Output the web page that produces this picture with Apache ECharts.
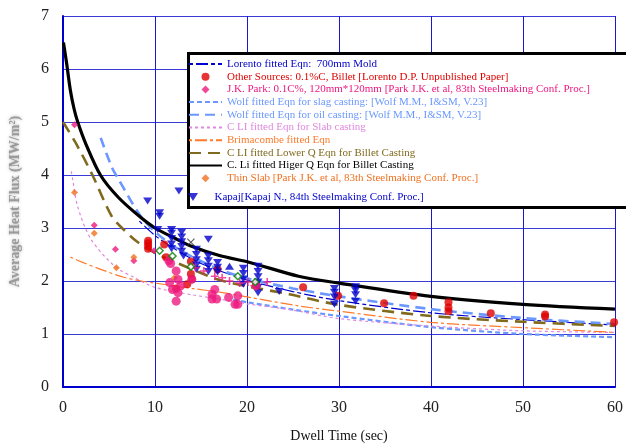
<!DOCTYPE html>
<html><head><meta charset="utf-8">
<script src="https://cdn.jsdelivr.net/npm/echarts@6/dist/echarts.min.js"></script>
<style>html,body{margin:0;padding:0;background:#fff}#c{width:626px;height:448px}</style>
</head><body><div id="c"></div>
<script>
// ---- axis ticks ----
const xTicks = [0, 10, 20, 30, 40, 50, 60];
const yTicks = [0, 1, 2, 3, 4, 5, 6, 7];

// ---- fitted curves [time, heat flux] ----
const lorentoCurve = [[8.3,3.13],[10,2.86],[12,2.62],[15,2.33],[20,2.02],[25,1.80],[30,1.63],[40,1.40],[50,1.27],[60,1.17]];
const wolfSlagCurve = [[18.5,1.65],[20,1.60],[25,1.46],[30,1.34],[40,1.13],[50,1.00],[60,0.94]];
const wolfOilCurve = [[4.1,4.70],[5.3,4.15],[6.1,3.90],[8.3,3.26],[10,2.93],[12,2.66],[14,2.46],[17,2.22],[20,2.05],[25,1.86],[30,1.71],[40,1.47],[50,1.30],[60,1.19]];
const cliSlabCurve = [[0.9,4.07],[1.07,3.90],[1.6,3.40],[3,2.80],[5.6,2.28],[7.7,2.07],[10,1.88],[14,1.74],[17,1.66],[20,1.57],[25,1.45],[30,1.29],[40,1.15],[50,1.06],[60,1.03]];
const brimacombeCurve = [[0.8,2.45],[2,2.36],[4.1,2.22],[6.6,2.07],[8.5,2.00],[10,1.96],[14,1.86],[17,1.79],[20,1.70],[25.6,1.53],[30,1.43],[40,1.22],[50,1.12],[60,1.03]];
const cliLowerCurve = [[0,5.00],[1.4,4.60],[3.2,4.00],[5.3,3.22],[6.6,2.97],[8,2.75],[10,2.53],[12,2.37],[15,2.15],[17,2.02],[20,1.90],[24.6,1.75],[30,1.55],[40,1.34],[50,1.23],[60,1.15]];
const cliHigherCurve = [[0.05,6.50],[0.4,6.10],[0.8,5.60],[1.2,5.25],[1.6,5.00],[2.5,4.58],[4.1,3.99],[6,3.58],[8.3,3.22],[10,3.00],[12,2.82],[13.9,2.66],[17,2.48],[20.3,2.35],[25.6,2.09],[30,1.96],[40,1.71],[50,1.56],[60,1.47]];

// ---- measured points ----
const otherSourcesPts = [[9.25,2.76],[9.25,2.71],[9.25,2.66],[9.25,2.61],[11.0,2.69],[11.2,2.45],[12.3,1.86],[13.5,1.94],[13.9,2.37],[13.9,2.13],[14.0,2.04],[16.8,2.22],[21.0,1.94],[26.1,1.88],[29.9,1.72],[34.9,1.58],[38.1,1.72],[41.9,1.60],[41.9,1.50],[41.9,1.43],[46.5,1.39],[52.4,1.37],[52.4,1.33],[59.9,1.22]];
const jkParkPts = [[1.25,4.95],[3.4,3.05],[5.7,2.60],[7.7,2.38],[9.9,2.57]];
const thinSlabPts = [[1.25,3.67],[3.4,2.90],[5.8,2.25],[7.7,2.45],[12.1,2.06]];
const kapajPts = [[9.2,3.51],[10.5,3.29],[10.5,3.22],[12.6,3.70],[10.3,2.97],
  [11.8,2.97],[11.8,2.90],[11.8,2.80],[11.8,2.70],[11.8,2.61],
  [12.9,2.92],[12.9,2.83],[12.9,2.74],[12.9,2.65],[12.9,2.56],[13.1,2.47],
  [14.5,2.60],[14.5,2.50],[14.5,2.40],[14.5,2.30],[14.5,2.22],
  [15.8,2.79],[15.8,2.47],[15.8,2.38],[15.8,2.28],[15.8,2.18],
  [16.8,2.35],[16.8,2.26],[16.8,2.17],
  [19.6,2.24],[19.6,2.14],[19.6,2.04],[19.6,1.94],
  [21.2,2.28],[21.2,2.18],[21.2,2.08],[21.2,1.98],[21.2,1.88],[21.2,1.78],
  [23.5,1.80],
  [29.5,1.86],[29.5,1.79],[29.5,1.70],[29.5,1.56],
  [31.8,1.89],[31.8,1.82],[31.8,1.74],[31.8,1.62]];
const kapajUpPts = [[18.1,2.28]];
const pinkCirclePts = [[11.5,2.38],[11.7,2.33],[12.3,2.19],[11.6,1.97],[12.5,2.03],[11.9,1.84],[12.5,1.78],[12.3,1.62],[12.8,1.91],[14.0,2.03],[16.2,1.75],[16.5,1.84],[16.2,1.66],[16.7,1.66],[18.0,1.69],[19.0,1.72],[18.7,1.56],[19.0,1.56],[21.0,1.91]];
const plusPts = [[14.4,2.25],[15.3,2.19],[16.5,2.09],[17.3,2.06],[18.1,2.00],[19.2,1.96],[20.1,1.98],[20.8,1.91],[22.2,1.98]];
const greenPts = [[10.5,2.57],[11.9,2.47],[13.9,2.27],[19.0,2.09],[20.9,1.98]];
const crossPts = [[13.9,2.73]];

// ---- legend labels ----
const names = [
  'Lorento fitted Eqn:  700mm Mold',
  'Other Sources: 0.1%C, Billet [Lorento D.P. Unpublished Paper]',
  'J.K. Park: 0.1C%, 120mm*120mm [Park J.K. et al, 83th Steelmaking Conf. Proc.]',
  'Wolf fitted Eqn for slag casting: [Wolf M.M., I&SM, V.23]',
  'Wolf fitted Eqn for oil casting: [Wolf M.M., I&SM, V.23]',
  'C LI fitted Eqn for Slab casting',
  'Brimacombe fitted Eqn',
  'C LI fitted Lower Q Eqn for Billet Casting',
  'C. Li fitted Higer Q Eqn for Billet Casting',
  'Thin Slab [Park J.K. et al, 83th Steelmaking Conf. Proc.]',
  'Kapaj[Kapaj N., 84th Steelmaking Conf. Proc.]'
];
const colors = ['#0000cc','#e00000','#ee1a80','#6b98ff','#6b98ff','#e088e0','#ff7a2a','#806a1e','#000000','#f07020','#0000cc'];
const isLine = [true,false,false,true,true,true,true,true,true,false,false];

const FONT = 'Liberation Serif, Times New Roman, serif';
const triDown = 'path://M0,0L10,0L5,8Z';
const triUp = 'path://M5,0L10,8L0,8Z';
const diamond = 'path://M5,0L10,5L5,10L0,5Z';

function lineSeries(i, data, type, width) {
  return { name: names[i], type: 'line', data: data, showSymbol: false, symbol: 'none',
    smooth: 0.3, z: 3,
    lineStyle: { color: colors[i], width: width, type: type }, itemStyle: { color: colors[i] } };
}
function scatterSeries(name, data, symbol, size, color, extra) {
  return Object.assign({ name: name, type: 'scatter', data: data, symbol: symbol, symbolSize: size, z: 4,
    itemStyle: { color: color } }, extra || {});
}

const series = [
  lineSeries(0, lorentoCurve, [4,3,12,3], 1.2),
  scatterSeries(names[1], otherSourcesPts, 'circle', 8, colors[1]),
  scatterSeries(names[2], jkParkPts, diamond, 7, colors[2]),
  lineSeries(3, wolfSlagCurve, [5,3], 2.2),
  lineSeries(4, wolfOilCurve, [10,6], 2.6),
  lineSeries(5, cliSlabCurve, [3,3], 1.2),
  lineSeries(6, brimacombeCurve, [3,3,12,3], 1.2),
  lineSeries(7, cliLowerCurve, [12,7], 2.6),
  lineSeries(8, cliHigherCurve, 'solid', 3.2),
  scatterSeries(names[9], thinSlabPts, diamond, 7, colors[9]),
  scatterSeries(names[10], kapajPts, triDown, [9,7], colors[10]),
  scatterSeries('kapajUp', kapajUpPts, triUp, [9,7], colors[10]),
  scatterSeries('pinkCircles', pinkCirclePts, 'circle', 9, '#ee1a80'),
  scatterSeries('plus', plusPts, 'path://M4,0L6,0L6,4L10,4L10,6L6,6L6,10L4,10L4,6L0,6L0,4L4,4Z', 8, '#ee1a80'),
  scatterSeries('green', greenPts, diamond, 7, '#ffffff', { itemStyle: { color: '#ffffff', borderColor: '#008000', borderWidth: 1.5 } }),
  scatterSeries('cross', crossPts, 'path://M0,1L1,0L5,4L9,0L10,1L6,5L10,9L9,10L5,6L1,10L0,9L4,5Z', 8, '#333333')
];

const legendStyle = { orient: 'vertical', left: 188, itemWidth: 33, itemHeight: 8, itemGap: 1.7, padding: 0,
  selectedMode: false, symbolKeepAspect: true, z: 6, textStyle: { fontFamily: FONT, fontSize: 11 } };

function legendItem(i) {
  const it = { name: names[i], textStyle: { color: colors[i] } };
  if (isLine[i]) it.itemStyle = { opacity: 0 };
  return it;
}

const option = {
  animation: false,
  backgroundColor: '#ffffff',
  grid: { left: 60, right: 4, top: 16, bottom: 60, show: false },
  xAxis: { type: 'value', min: xTicks[0], max: xTicks[xTicks.length-1], interval: 10,
    name: 'Dwell Time (sec)', nameLocation: 'middle', nameGap: 42,
    nameTextStyle: { fontFamily: FONT, fontSize: 14, color: '#111' },
    axisLine: { lineStyle: { color: '#0000cc', width: 2 } }, axisTick: { show: false },
    axisLabel: { fontFamily: FONT, fontSize: 16, color: '#222', margin: 13 },
    splitLine: { show: true, lineStyle: { color: '#1a1acc', width: 1 } } },
  yAxis: { type: 'value', min: yTicks[0], max: yTicks[yTicks.length-1], interval: 1,
    name: 'Average Heat Flux (MW/m²)', nameLocation: 'middle', nameGap: 41,
    nameTextStyle: { fontFamily: FONT, fontSize: 14, fontWeight: 'bold', color: '#9a9a9a',
      textShadowColor: 'rgba(150,150,150,0.8)', textShadowBlur: 3 },
    axisLine: { show: true, lineStyle: { color: '#0000cc', width: 2 } }, axisTick: { show: false },
    axisLabel: { fontFamily: FONT, fontSize: 16, color: '#222', margin: 14 },
    splitLine: { show: true, lineStyle: { color: '#3a3ad8', width: 1 } } },
  graphic: [{ type: 'rect', left: 187, top: 52, z: 5,
    shape: { width: 460, height: 154 },
    style: { fill: '#ffffff', stroke: '#000000', lineWidth: 3 } }],
  legend: [
    Object.assign({}, legendStyle, { top: 58.5,
      data: names.slice(0, 10).map((n, i) => legendItem(i)) }),
    Object.assign({}, legendStyle, { top: 191.5, data: [legendItem(10)] })
  ],
  series: series
};
const chart = echarts.init(document.getElementById('c'), null, { renderer: 'canvas' });
chart.setOption(option);
</script></body></html>
